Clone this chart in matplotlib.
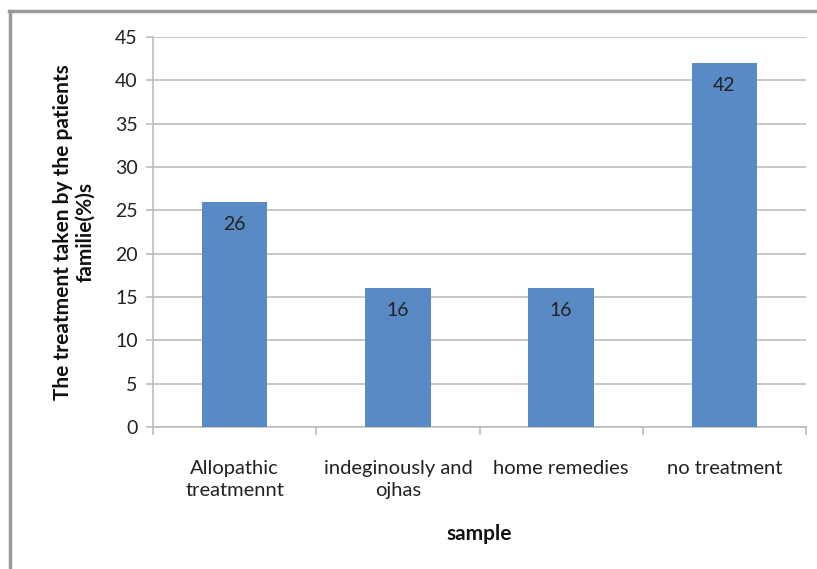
import matplotlib
matplotlib.use("Agg")
import matplotlib.pyplot as plt
from matplotlib.lines import Line2D

categories = ["Allopathic\ntreatmennt", "indeginously and\nojhas", "home remedies", "no treatment"]
values = [26, 16, 16, 42]
yticks = [0, 5, 10, 15, 20, 25, 30, 35, 40, 45]

plt.rcParams["font.family"] = ["Lato", "DejaVu Sans"]

W, H = 817, 569
fig = plt.figure(figsize=(W / 100, H / 100), dpi=100)
ax = fig.add_axes([153 / W, 1 - 427 / H, (806 - 153) / W, (427 - 37) / H])

grid_c = "#bcbcbc"
txt_c = "#222222"
x = list(range(len(categories)))
ax.bar(x, values, width=0.4, color="#5a8ac6", zorder=3)

for xi, v in zip(x, values):
    ax.text(xi, v - 1.6, str(v), ha="center", va="top", fontsize=14, color=txt_c, zorder=4)

ax.set_xlim(-0.5, len(categories) - 0.5)
ax.set_ylim(0, 45)
ax.set_yticks(yticks)
ax.set_yticklabels([str(t) for t in yticks], fontsize=14, color=txt_c)
ax.yaxis.grid(True, color=grid_c, linewidth=1.2, zorder=0)
ax.tick_params(axis="y", length=5, color=grid_c, width=1.2, pad=6)

ax.set_xticks([i - 0.5 for i in range(len(categories) + 1)], minor=False)
ax.set_xticklabels([])
ax.tick_params(axis="x", which="major", length=6, color=grid_c, width=1.2)
ax.set_xticks(x, minor=True)
ax.set_xticklabels(categories, minor=True, fontsize=14.5, color=txt_c, linespacing=1.3)
ax.tick_params(axis="x", which="minor", length=0, pad=24)

for s in ["top", "right"]:
    ax.spines[s].set_visible(False)
for s in ["left", "bottom"]:
    ax.spines[s].set_color(grid_c)
    ax.spines[s].set_linewidth(1.2)

ax.set_ylabel("The treatment taken by the patients\nfamilie(%)s", fontsize=15, fontweight="bold",
              color="#111111", labelpad=14, linespacing=1.15)
ax.set_xlabel("sample", fontsize=15, fontweight="bold", color="#111111", labelpad=18)

# outer frame: left and top edges only
fig.add_artist(Line2D([10 / W, 10 / W], [0, 1 - 11 / H], transform=fig.transFigure,
                      color="#9a9a9a", linewidth=2.5))
fig.add_artist(Line2D([9 / W, 1], [1 - 11 / H, 1 - 11 / H], transform=fig.transFigure,
                      color="#9a9a9a", linewidth=2.5))

fig.savefig("out.png", dpi=100)
